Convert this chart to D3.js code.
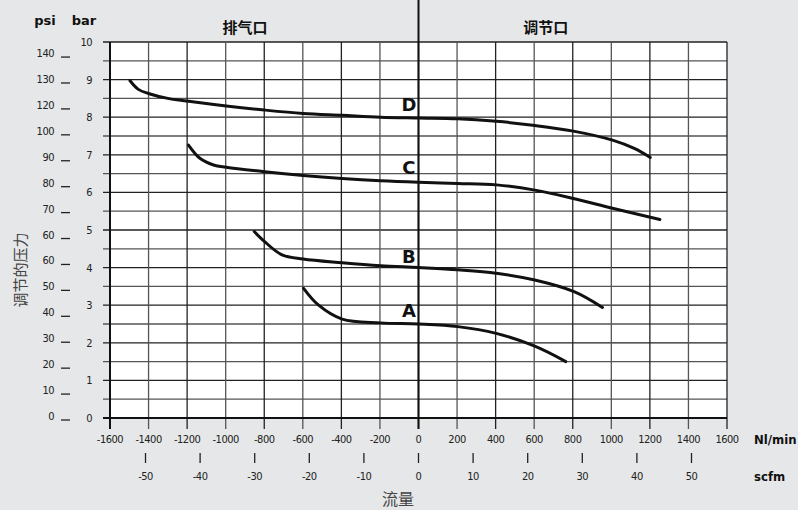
<!DOCTYPE html>
<html>
<head>
<meta charset="utf-8">
<script src="https://cdn.jsdelivr.net/npm/d3@7"></script>
<style>
  html, body { margin: 0; padding: 0; background: #e6e7e8; }
  svg { display: block; }
</style>
</head>
<body>
<div id="chart"></div>
<script>
// Flow (Nl/min) vs regulated pressure (bar), curves A-D
const curveNames = ['A', 'B', 'C', 'D'];
const flowA = [-596, -518, -396, -197, 0, 204, 403, 603, 764];
const barA  = [3.45, 3.0, 2.63, 2.53, 2.50, 2.43, 2.25, 1.91, 1.50];
const flowB = [-852, -798, -708, -599, -396, -197, 0, 204, 403, 603, 807, 954];
const barB  = [4.96, 4.69, 4.34, 4.23, 4.13, 4.05, 4.0, 3.94, 3.85, 3.67, 3.36, 2.94];
const flowC = [-1193, -1132, -1063, -997, -798, -599, -396, -197, 0, 204, 405, 604, 803, 1006, 1252];
const barC  = [7.26, 6.9, 6.73, 6.67, 6.55, 6.45, 6.37, 6.31, 6.27, 6.24, 6.2, 6.06, 5.84, 5.58, 5.28];
const flowD = [-1496, -1453, -1401, -1300, -1202, -997, -798, -599, -396, -197, 0, 204, 405, 604, 803, 1006, 1119, 1202];
const barD  = [8.97, 8.74, 8.63, 8.50, 8.43, 8.30, 8.19, 8.10, 8.05, 8.0, 7.98, 7.96, 7.89, 7.78, 7.63, 7.39, 7.17, 6.93];
// label anchor for each curve (flow, bar)
const labelFlow = [-50, -50, -50, -50];
const labelBar  = [2.87, 4.30, 6.68, 8.35];

const flowTicks = d3.range(-1600, 1601, 200);
const scfmTicks = [-50, -40, -30, -20, -10, 0, 10, 20, 30, 40, 50];
const barTicks = d3.range(0, 11, 1);
const psiTicks = d3.range(0, 141, 10);
const psiLabels = ['0', '10', '20', '30', '40', '50', '60', '60', '70', '80', '90', '100', '120', '130', '140'];
const headers = [{ text: '排气口', flow: -900 }, { text: '调节口', flow: 660 }];

const NL_PER_SCFM = 28.317;
const BAR_PER_PSI = 0.0689476;

const W = 798, H = 510;
const margin = { left: 110, right: 71, top: 42, bottom: 92 };
const width = W - margin.left - margin.right;
const height = H - margin.top - margin.bottom;

const svg = d3.select('#chart').append('svg')
  .attr('width', W)
  .attr('height', H);

const x = d3.scaleLinear().domain([-1600, 1600]).range([margin.left, margin.left + width]);
const y = d3.scaleLinear().domain([0, 10]).range([margin.top + height, margin.top]);

const labelFont = '"DejaVu Sans Condensed", "DejaVu Sans", sans-serif';
const boldFont = '"DejaVu Sans", sans-serif';

// plot background
svg.append('rect')
  .attr('x', x(-1600)).attr('y', y(10))
  .attr('width', x(1600) - x(-1600)).attr('height', y(0) - y(10))
  .attr('fill', '#fff');

// horizontal grid (every 0.5 bar), extends a little left of the frame
const grid = svg.append('g');
grid.selectAll('line.h')
  .data(d3.range(0, 10.01, 0.5))
  .join('line')
  .attr('x1', x(-1600) - 7).attr('x2', x(1600))
  .attr('y1', d => y(d)).attr('y2', d => y(d))
  .attr('stroke', (d, i) => i % 2 ? '#555' : '#222')
  .attr('stroke-width', 1.3);

// vertical grid, extends below frame as ticks
grid.selectAll('line.v')
  .data(flowTicks)
  .join('line')
  .attr('x1', d => x(d)).attr('x2', d => x(d))
  .attr('y1', y(10)).attr('y2', y(0) + 11)
  .attr('stroke', (d, i) => i % 2 ? '#555' : '#222')
  .attr('stroke-width', 1.3);

// heavier frame lines
svg.append('line')
  .attr('x1', x(-1600)).attr('x2', x(-1600))
  .attr('y1', y(10)).attr('y2', y(0) + 11)
  .attr('stroke', '#111').attr('stroke-width', 2);
svg.append('line')
  .attr('x1', x(-1600) - 7).attr('x2', x(1600))
  .attr('y1', y(0)).attr('y2', y(0))
  .attr('stroke', '#111').attr('stroke-width', 2.2);
svg.append('line')
  .attr('x1', x(0)).attr('x2', x(0))
  .attr('y1', 0).attr('y2', y(0) + 11)
  .attr('stroke', '#111').attr('stroke-width', 2);

// headers
svg.selectAll('text.header')
  .data(headers)
  .join('text')
  .attr('x', d => x(d.flow))
  .attr('y', 33)
  .attr('text-anchor', 'middle')
  .attr('font-family', '"Noto Sans CJK SC", sans-serif')
  .attr('font-weight', 'bold')
  .attr('font-size', '15px')
  .attr('fill', '#111')
  .text(d => d.text);

// flow axis labels (Nl/min)
svg.append('g').selectAll('text')
  .data(flowTicks)
  .join('text')
  .attr('x', d => x(d))
  .attr('y', 443)
  .attr('text-anchor', 'middle')
  .attr('font-family', labelFont)
  .attr('font-size', '11px')
  .attr('letter-spacing', '-0.5px')
  .attr('fill', '#222')
  .text(d => d);

// scfm axis
const scfm = svg.append('g');
scfm.selectAll('line')
  .data(scfmTicks)
  .join('line')
  .attr('x1', d => x(d * NL_PER_SCFM)).attr('x2', d => x(d * NL_PER_SCFM))
  .attr('y1', 453).attr('y2', 463)
  .attr('stroke', '#222').attr('stroke-width', 1.3);
scfm.selectAll('text')
  .data(scfmTicks)
  .join('text')
  .attr('x', d => x(d * NL_PER_SCFM))
  .attr('y', 480)
  .attr('text-anchor', 'middle')
  .attr('font-family', labelFont)
  .attr('font-size', '11px')
  .attr('letter-spacing', '-0.5px')
  .attr('fill', '#222')
  .text(d => d);

svg.append('text')
  .attr('x', 754).attr('y', 444)
  .attr('font-family', labelFont)
  .attr('font-weight', 'bold')
  .attr('font-size', '13px')
  .attr('fill', '#111')
  .text('Nl/min');
svg.append('text')
  .attr('x', 754).attr('y', 481)
  .attr('font-family', labelFont)
  .attr('font-weight', 'bold')
  .attr('font-size', '13px')
  .attr('fill', '#111')
  .text('scfm');

svg.append('text')
  .attr('x', 398).attr('y', 505)
  .attr('text-anchor', 'middle')
  .attr('font-family', '"Noto Sans CJK SC", sans-serif')
  .attr('font-size', '16px')
  .attr('fill', '#444')
  .text('流量');

// bar axis labels
svg.append('g').selectAll('text')
  .data(barTicks)
  .join('text')
  .attr('x', 92)
  .attr('y', d => y(d) + 4)
  .attr('text-anchor', 'end')
  .attr('font-family', labelFont)
  .attr('font-size', '11px')
  .attr('letter-spacing', '-0.5px')
  .attr('fill', '#222')
  .text(d => d);

// psi axis labels with dashes
const psi = svg.append('g');
psi.selectAll('text')
  .data(psiTicks)
  .join('text')
  .attr('x', 54)
  .attr('y', d => y(d * BAR_PER_PSI) + 2)
  .attr('text-anchor', 'end')
  .attr('font-family', labelFont)
  .attr('font-size', '11px')
  .attr('letter-spacing', '-0.5px')
  .attr('fill', '#222')
  .text((d, i) => psiLabels[i]);
psi.selectAll('line')
  .data(psiTicks)
  .join('line')
  .attr('x1', 61).attr('x2', 70)
  .attr('y1', d => y(d * BAR_PER_PSI) + 2)
  .attr('y2', d => y(d * BAR_PER_PSI) + 2)
  .attr('stroke', '#222').attr('stroke-width', 1.3);

svg.append('text')
  .attr('x', 45).attr('y', 25)
  .attr('text-anchor', 'middle')
  .attr('font-family', boldFont)
  .attr('font-weight', 'bold')
  .attr('font-size', '13px')
  .attr('fill', '#111')
  .text('psi');
svg.append('text')
  .attr('x', 84).attr('y', 25)
  .attr('text-anchor', 'middle')
  .attr('font-family', boldFont)
  .attr('font-weight', 'bold')
  .attr('font-size', '13px')
  .attr('fill', '#111')
  .text('bar');

svg.append('text')
  .attr('transform', `translate(26,${(y(0) + y(10)) / 2 + 40}) rotate(-90)`)
  .attr('text-anchor', 'middle')
  .attr('font-family', '"Noto Sans CJK SC", sans-serif')
  .attr('font-size', '15px')
  .attr('fill', '#444')
  .text('调节的压力');

// curves
const series = [
  d3.zip(flowA, barA),
  d3.zip(flowB, barB),
  d3.zip(flowC, barC),
  d3.zip(flowD, barD)
];
const line = d3.line()
  .x(d => x(d[0]))
  .y(d => y(d[1]))
  .curve(d3.curveCatmullRom.alpha(0.5));

svg.append('g').selectAll('path')
  .data(series)
  .join('path')
  .attr('d', line)
  .attr('fill', 'none')
  .attr('stroke', '#111')
  .attr('stroke-width', 3)
  .attr('stroke-linecap', 'round');

svg.append('g').selectAll('text')
  .data(curveNames)
  .join('text')
  .attr('x', (d, i) => x(labelFlow[i]))
  .attr('y', (d, i) => y(labelBar[i]) + 7)
  .attr('text-anchor', 'middle')
  .attr('font-family', boldFont)
  .attr('font-weight', 'bold')
  .attr('font-size', '18px')
  .attr('fill', '#111')
  .text(d => d);
</script>
</body>
</html>
